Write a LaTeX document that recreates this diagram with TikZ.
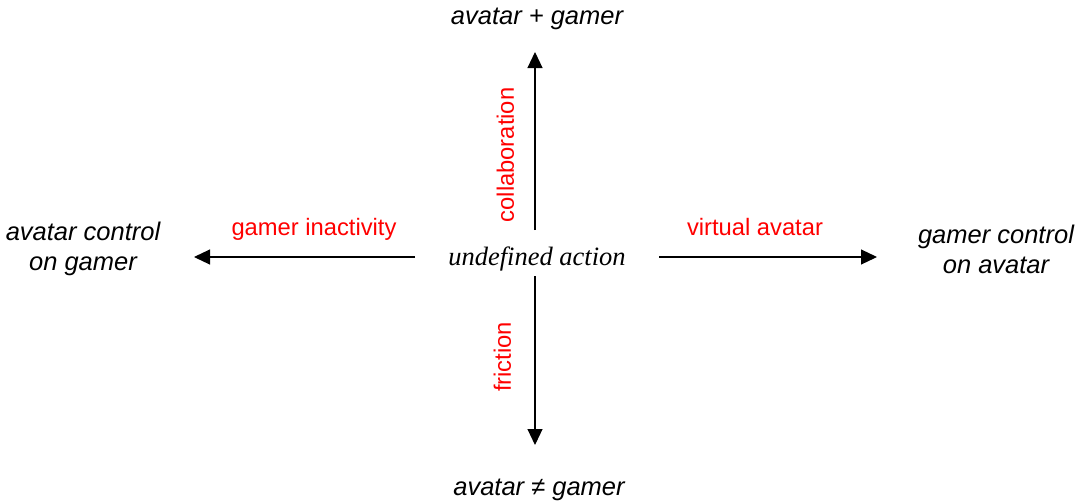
\documentclass[tikz,border=0pt]{standalone}
\usepackage{fontspec}
\setmainfont{Liberation Serif}
\setsansfont{Liberation Sans}
\usetikzlibrary{arrows.meta}
\begin{document}
\begin{tikzpicture}[x=1pt,y=-1pt,
  pole/.style={font=\sffamily\itshape\fontsize{25.5}{29.5}\selectfont, align=center, inner sep=0pt, anchor=base},
  force/.style={font=\sffamily\fontsize{23.75}{28}\selectfont, text=red, inner sep=0pt},
  arr/.style={-{Triangle[length=16pt,width=15pt]}, line width=1.1pt}]
\useasboundingbox (0,0) rectangle (1081,501);

% centre
\node[font=\itshape\fontsize{26.5}{30}\selectfont, inner sep=0pt, anchor=base] (c) at (537,265) {undefined action};

% poles of the two axes (base = baseline of the last line)
\node[pole] (top) at (537,24) {avatar + gamer};
\node[pole] (bot) at (539,495) {avatar ≠ gamer};
\node[pole] (left) at (83,270) {avatar control\\on gamer};
\node[pole] (right) at (996,273) {gamer control\\on avatar};

% arrow ends
\coordinate (cN) at (535,230);
\coordinate (cS) at (535,276);
\coordinate (cW) at (415,257);
\coordinate (cE) at (659,257);
\coordinate (tN) at (535,52);
\coordinate (tS) at (535,445);
\coordinate (tW) at (194,257);
\coordinate (tE) at (877,257);

\draw[arr] (cN) -- (tN);
\draw[arr] (cS) -- (tS);
\draw[arr] (cW) -- (tW);
\draw[arr] (cE) -- (tE);

% forces along the axes
\node[force, anchor=base] (inact) at (314,235) {gamer inactivity};
\node[force, anchor=base] (virt) at (755,235) {virtual avatar};
\node[force, rotate=90] (collab) at (505.5,155) {collaboration};
\node[force, rotate=90] (fric) at (502.5,357) {friction};
\end{tikzpicture}
\end{document}
